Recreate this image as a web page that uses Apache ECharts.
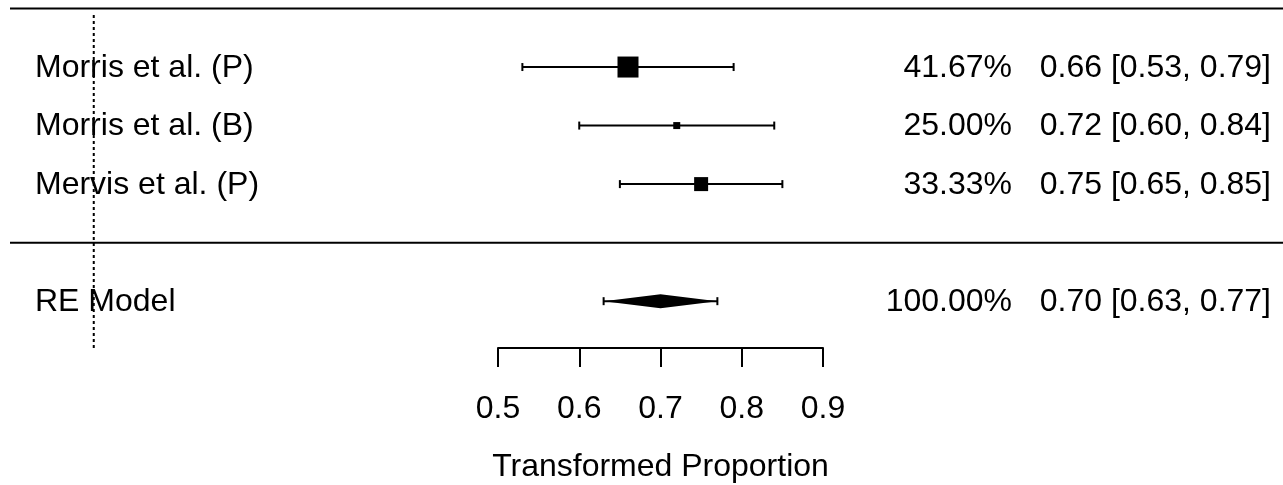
<!DOCTYPE html>
<html>
<head>
<meta charset="utf-8">
<script src="https://cdn.jsdelivr.net/npm/echarts@6/dist/echarts.min.js"></script>
<style>
html,body{margin:0;padding:0;background:#fff;}
#chart{width:1283px;height:485px;}
</style>
</head>
<body>
<div id="chart"></div>
<script>
// ---- data ----
const studies = ['Morris et al. (P)', 'Morris et al. (B)', 'Mervis et al. (P)'];
const estimates = [0.66, 0.72, 0.75];
const ciLower = [0.53, 0.60, 0.65];
const ciUpper = [0.79, 0.84, 0.85];
const weights = [41.67, 25.00, 33.33];
const summaryLabel = 'RE Model';
const summaryEstimate = 0.70;
const summaryLower = 0.63;
const summaryUpper = 0.77;
const summaryWeight = 100.00;
const xTicks = [0.5, 0.6, 0.7, 0.8, 0.9];
const xTitle = 'Transformed Proportion';
const refLine = 0;

// ---- layout / style ----
const FAMILY = '"Liberation Sans", Arial, sans-serif';
const FONT = '32px ' + FAMILY;
const INK = '#000';
const k = studies.length;
const rows = studies.map((s, i) => k - i);   // 3,2,1
const summaryRow = -1;
const NAME_X = 35, PCT_X = 1012, CI_X = 1271, TEXT_DY = 1;
const wMin = Math.min(...weights), wMax = Math.max(...weights);
const fmt = v => v.toFixed(2);

const chart = echarts.init(document.getElementById('chart'), null, {renderer: 'canvas'});

function textEl(str, x, y, align) {
  return {type: 'text', style: {text: str, x: x, y: y + TEXT_DY, font: FONT, fill: INK, align: align, verticalAlign: 'middle'}};
}

const studyData = studies.map((s, i) => [estimates[i], rows[i], ciLower[i], ciUpper[i], weights[i], i]);

chart.setOption({
  animation: false,
  grid: {left: 498, width: 325, top: 8.5, height: 339.5, containLabel: false, outerBoundsMode: 'none'},
  xAxis: {
    type: 'value', min: xTicks[0], max: xTicks[xTicks.length - 1], interval: 0.1,
    axisLine: {show: true, onZero: false, lineStyle: {color: INK, width: 2}},
    axisTick: {show: true, length: 19, lineStyle: {color: INK, width: 2}},
    splitLine: {show: false},
    axisLabel: {fontSize: 32, fontFamily: FAMILY, color: INK, margin: 45,
      formatter: v => v.toFixed(1), showMinLabel: true, showMaxLabel: true},
    name: xTitle, nameLocation: 'middle', nameGap: 103,
    nameTextStyle: {fontSize: 32, fontFamily: FAMILY, color: INK}
  },
  yAxis: {type: 'value', min: -1.8, max: 4, show: false},
  series: [
    { // frame lines and reference line
      type: 'custom', clip: false, silent: true,
      data: [[0]],
      renderItem: function (params, api) {
        const top = api.coord([refLine, k + 1]);
        const mid = api.coord([refLine, 0]);
        const r0 = api.coord([refLine, -1.8]);
        const r1 = api.coord([refLine, k + 0.9]);
        return {type: 'group', children: [
          {type: 'line', shape: {x1: 10, y1: top[1], x2: 1283, y2: top[1]}, style: {stroke: INK, lineWidth: 2}},
          {type: 'line', shape: {x1: 10, y1: mid[1], x2: 1283, y2: mid[1]}, style: {stroke: INK, lineWidth: 2}},
          {type: 'line', shape: {x1: r0[0] + 2, y1: r0[1], x2: r1[0] + 2, y2: r1[1]}, style: {stroke: INK, lineWidth: 2, lineDash: [3, 3]}}
        ]};
      }
    },
    { // studies
      type: 'custom', clip: false, silent: true,
      encode: {x: 0, y: 1},
      data: studyData,
      renderItem: function (params, api) {
        const est = api.value(0), row = api.value(1), lo = api.value(2), hi = api.value(3), w = api.value(4);
        const i = api.value(5);
        const c = api.coord([est, row]);
        const a = api.coord([lo, row]);
        const b = api.coord([hi, row]);
        const s = 7 + 14 * (w - wMin) / (wMax - wMin);
        return {type: 'group', children: [
          {type: 'line', shape: {x1: a[0], y1: a[1], x2: b[0], y2: b[1]}, style: {stroke: INK, lineWidth: 2}},
          {type: 'line', shape: {x1: a[0], y1: a[1] - 4, x2: a[0], y2: a[1] + 4}, style: {stroke: INK, lineWidth: 2}},
          {type: 'line', shape: {x1: b[0], y1: b[1] - 4, x2: b[0], y2: b[1] + 4}, style: {stroke: INK, lineWidth: 2}},
          {type: 'rect', shape: {x: c[0] - s / 2, y: c[1] - s / 2, width: s, height: s}, style: {fill: INK}},
          textEl(studies[i], NAME_X, c[1], 'left'),
          textEl(fmt(w) + '%', PCT_X, c[1], 'right'),
          textEl(fmt(est) + ' [' + fmt(lo) + ', ' + fmt(hi) + ']', CI_X, c[1], 'right')
        ]};
      }
    },
    { // summary diamond
      type: 'custom', clip: false, silent: true,
      encode: {x: 0, y: 1},
      data: [[summaryEstimate, summaryRow, summaryLower, summaryUpper, summaryWeight]],
      renderItem: function (params, api) {
        const est = api.value(0), row = api.value(1), lo = api.value(2), hi = api.value(3), w = api.value(4);
        const c = api.coord([est, row]);
        const a = api.coord([lo, row]);
        const b = api.coord([hi, row]);
        const h = 7;
        return {type: 'group', children: [
          {type: 'polygon', shape: {points: [[a[0], a[1]], [c[0], c[1] - h], [b[0], b[1]], [c[0], c[1] + h]]}, style: {fill: INK}},
          {type: 'line', shape: {x1: a[0], y1: a[1], x2: b[0], y2: b[1]}, style: {stroke: INK, lineWidth: 2}},
          {type: 'line', shape: {x1: a[0], y1: a[1] - 4, x2: a[0], y2: a[1] + 4}, style: {stroke: INK, lineWidth: 2}},
          {type: 'line', shape: {x1: b[0], y1: b[1] - 4, x2: b[0], y2: b[1] + 4}, style: {stroke: INK, lineWidth: 2}},
          textEl(summaryLabel, NAME_X, c[1], 'left'),
          textEl(fmt(w) + '%', PCT_X, c[1], 'right'),
          textEl(fmt(est) + ' [' + fmt(lo) + ', ' + fmt(hi) + ']', CI_X, c[1], 'right')
        ]};
      }
    }
  ]
});
</script>
</body>
</html>
